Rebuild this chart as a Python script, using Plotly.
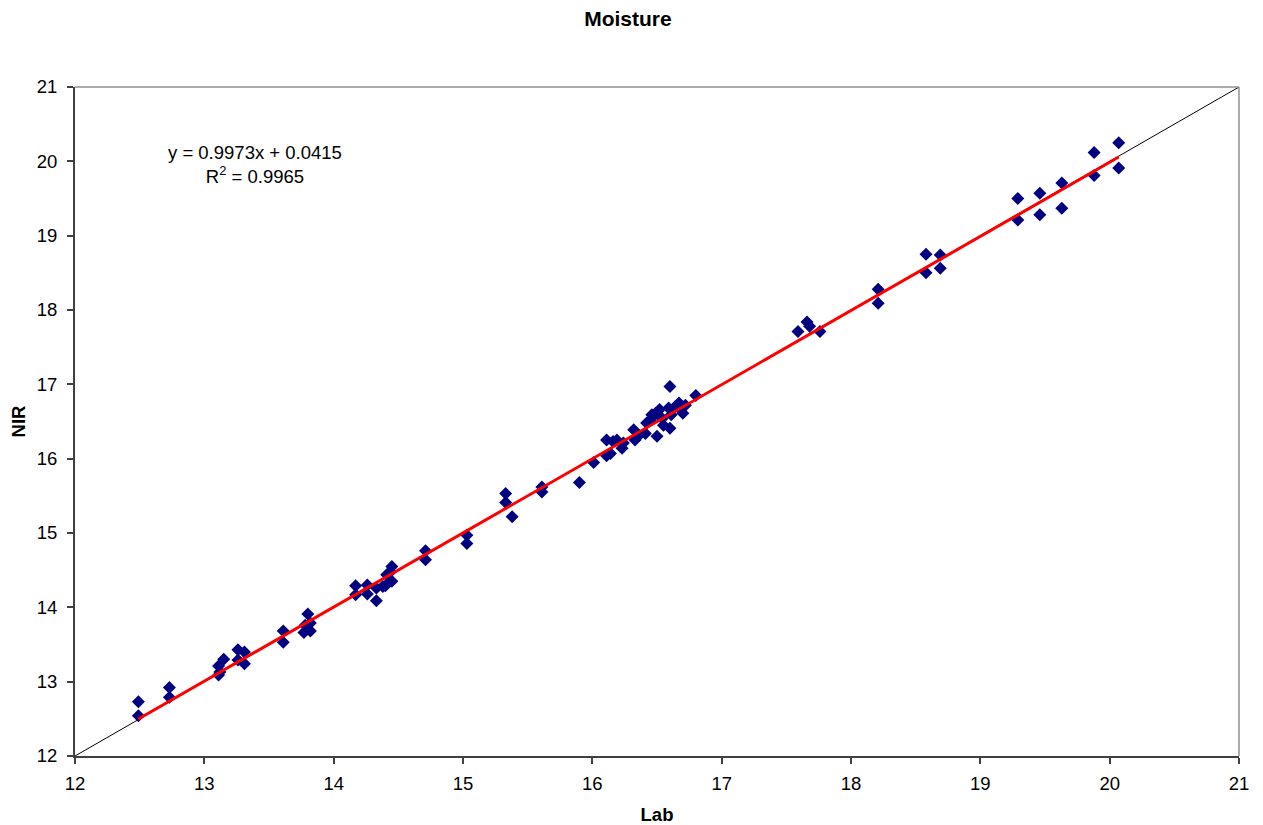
import plotly.graph_objects as go

lab = [12.49, 12.49, 12.73, 12.73,
       13.11, 13.15, 13.12, 13.11, 13.26, 13.31, 13.26, 13.31,
       13.61, 13.61, 13.80, 13.78, 13.77, 13.82, 13.82,
       14.17, 14.17, 14.26, 14.26, 14.33, 14.33, 14.40, 14.38, 14.45, 14.44, 14.45, 14.41,
       14.71, 14.71, 15.03, 15.03, 15.33, 15.33, 15.38, 15.61, 15.61, 15.90, 16.01,
       16.11, 16.11, 16.14, 16.16, 16.19, 16.23, 16.24, 16.32, 16.33, 16.36, 16.41, 16.42,
       16.45, 16.46, 16.49, 16.50, 16.52, 16.54, 16.55, 16.59, 16.61, 16.64, 16.67, 16.68,
       16.70, 16.72, 16.60, 16.60, 16.80,
       17.59, 17.66, 17.68, 17.76, 18.21, 18.21, 18.58, 18.58, 18.69, 18.69,
       19.29, 19.29, 19.46, 19.46, 19.63, 19.63, 19.88, 19.88, 20.07, 20.07]
nir = [12.73, 12.54, 12.92, 12.79,
       13.21, 13.30, 13.13, 13.09, 13.43, 13.40, 13.29, 13.24,
       13.68, 13.53, 13.91, 13.76, 13.66, 13.68, 13.79,
       14.29, 14.17, 14.30, 14.18, 14.26, 14.09, 14.29, 14.28, 14.55, 14.48, 14.35, 14.44,
       14.76, 14.64, 14.97, 14.86, 15.53, 15.41, 15.22, 15.62, 15.55, 15.68, 15.95,
       16.25, 16.04, 16.07, 16.23, 16.25, 16.14, 16.21, 16.39, 16.25, 16.31, 16.34, 16.48,
       16.52, 16.59, 16.61, 16.30, 16.66, 16.54, 16.45, 16.68, 16.59, 16.70, 16.75, 16.66,
       16.61, 16.72, 16.97, 16.41, 16.85,
       17.71, 17.84, 17.78, 17.71, 18.28, 18.09, 18.75, 18.50, 18.74, 18.56,
       19.50, 19.21, 19.57, 19.28, 19.71, 19.37, 20.12, 19.81, 20.25, 19.91]

slope = 0.9973
intercept = 0.0415
r2 = 0.9965
axis_min, axis_max = 12, 21
ticks = list(range(12, 22))

fig = go.Figure()

fig.add_trace(go.Scatter(
    x=lab, y=nir, mode="markers",
    marker=dict(symbol="diamond", size=10, color="#000080", line=dict(width=0)),
    showlegend=False, cliponaxis=False))

fig.add_trace(go.Scatter(
    x=[axis_min, axis_max], y=[axis_min, axis_max], mode="lines",
    line=dict(color="#000000", width=1), showlegend=False))

xmin, xmax = min(lab), max(lab)
fig.add_trace(go.Scatter(
    x=[xmin, xmax], y=[slope * xmin + intercept, slope * xmax + intercept],
    mode="lines", line=dict(color="#FF0000", width=3), showlegend=False))

font = "Liberation Sans, Arial, sans-serif"
fs = 18.5

fig.update_layout(
    width=1255, height=817,
    paper_bgcolor="white", plot_bgcolor="white",
    margin=dict(l=67, r=24, t=79, b=69),
    title=dict(text="<b>Moisture</b>", xref="container", x=0.494, xanchor="center",
               yref="container", y=0.987, yanchor="middle",
               font=dict(family=font, size=21, color="black")),
    font=dict(family=font, size=fs, color="black"),
    xaxis=dict(range=[axis_min, axis_max], tickvals=ticks, showgrid=False, zeroline=False,
               showline=True, linecolor="#404040", linewidth=2, ticks="outside",
               ticklen=6, tickcolor="#404040", tickwidth=1.5, ticklabelstandoff=4,
               automargin=False,
               title=dict(text="<b>Lab</b>", font=dict(family=font, size=fs), standoff=15),
               tickfont=dict(family=font, size=fs)),
    yaxis=dict(range=[axis_min, axis_max], tickvals=ticks, showgrid=False, zeroline=False,
               showline=True, linecolor="#404040", linewidth=2, ticks="outside",
               ticklen=6, tickcolor="#404040", tickwidth=1.5, ticklabelstandoff=6,
               automargin=False,
               title=dict(text="<b>NIR</b>", font=dict(family=font, size=fs), standoff=7),
               tickfont=dict(family=font, size=fs)),
    shapes=[
        dict(type="line", xref="paper", yref="paper", x0=0, x1=1, y0=1, y1=1,
             line=dict(color="#909090", width=1.5)),
        dict(type="line", xref="paper", yref="paper", x0=1, x1=1, y0=0, y1=1,
             line=dict(color="#909090", width=1.5)),
    ],
    annotations=[
        dict(text=f"y = {slope}x + {intercept}<br>R<sup>2</sup> = {r2}",
             xref="x", yref="y", x=13.39, y=19.96, showarrow=False,
             align="center", font=dict(family=font, size=fs, color="black")),
    ],
)

fig.write_html("out.html")
